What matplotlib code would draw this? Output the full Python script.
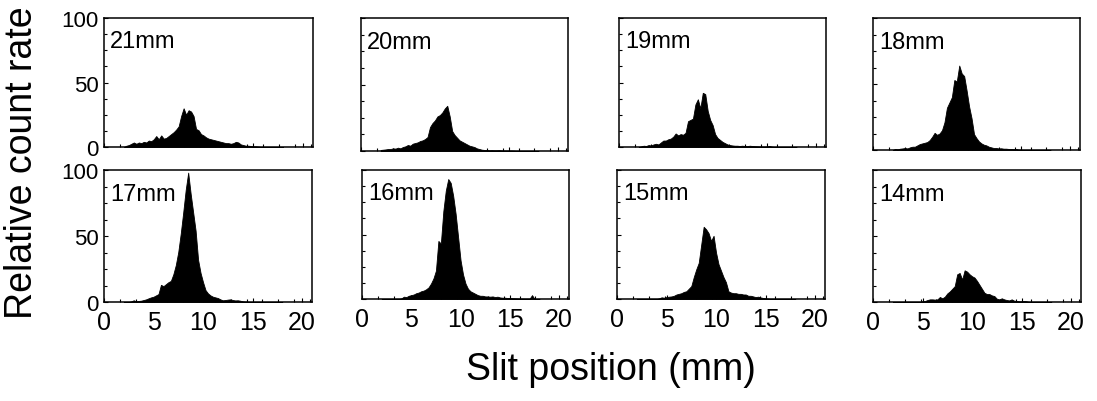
import numpy as np
import matplotlib
matplotlib.use("Agg")
import matplotlib.pyplot as plt
from matplotlib.ticker import MultipleLocator

plt.rcParams['font.family'] = ['Liberation Sans', 'DejaVu Sans']

# --- data: relative count rate vs slit position, one histogram per gap ---
slit_mm = np.arange(2.0, 18.01, 0.25)   # bin centres, 65 bins
gap_labels = ["21mm", "20mm", "19mm", "18mm", "17mm", "16mm", "15mm", "14mm"]

rate_21 = [0, 1, 1.5, 2.5,  3.5, 2.5, 3.5, 3,  4, 3.5, 5, 4.5,  6, 8.5, 6, 9,
           6.5, 7, 8.5, 10,  11.5, 13.5, 16, 24,  30, 25, 28.5, 27.5,  24, 14, 13, 10,
           9, 7.5, 6.5, 6,  5.5, 5, 4.5, 4,  3.5, 3, 3, 2.5,  3, 4, 3.5, 2,
           1.5, 1, 1, 0.8,  0.5, 0.5, 0.3, 0,  0, 0, 0, 0,  0, 0, 0, 0,  0]
rate_20 = [0.8, 1, 1.2, 1.5,  1.5, 2, 1.8, 2.5,  2, 3, 3.5, 4.5,  4, 5.5, 6, 6.5,
           7.5, 8, 9, 10.5,  18, 21, 23, 26,  27, 29, 32, 34,  26, 15, 12, 10,
           8, 7, 6, 5,  4, 3.5, 3, 2,  1.5, 1, 0.8, 0.8,  0.5, 0.6, 0.5, 0.5,
           0.6, 0.4, 0.3, 0.3,  0.3, 0.3, 0.2, 0,  0, 0, 0, 0,  0, 0, 0, 0,  0]
rate_19 = [0, 0.5, 1, 0.8,  1.5, 1.2, 2, 2.5,  2, 3.5, 5, 5,  6, 6.5, 8, 10.5,
           9, 10, 9.5, 11,  20, 21, 22, 33,  37, 30, 42, 41,  28, 21, 17, 10,
           7, 5.5, 4, 3,  2, 1.5, 1.2, 1,  1, 0.8, 1, 0.8,  0.6, 1, 0.8, 0.6,
           0.5, 0.4, 0.3, 0.3,  0.4, 0.8, 0.3, 0,  0, 0, 0, 0,  0, 0, 0, 0,  0]
rate_18 = [0, 0.8, 0.5, 1,  1.2, 1.5, 1.2, 2,  2.5, 2.5, 3.5, 4.5,  5, 5.5, 6, 7.5,
           10, 13, 11.5, 12.5,  15, 21, 32, 36,  40, 53, 52, 64,  58, 56, 45, 33,
           24, 12, 9, 6.5,  5, 4, 3.5, 2.5,  2, 1.5, 1.5, 1.2,  1.3, 1, 1, 0.8,
           0.8, 0.6, 0.8, 0.3,  0.2, 0, 0, 0,  0, 0, 0, 0,  0, 0, 0, 0,  0]
rate_17 = [0, 0, 0, 0.5,  1.3, 0.5, 0.8, 1,  1.5, 2, 2.8, 3.5,  4, 5, 6, 13,
           12, 13.5, 15, 16,  21, 28, 38, 52,  68, 85, 98, 82,  68, 54, 32, 22,
           15, 9, 6.5, 5,  4, 3.5, 3, 2,  1.3, 1.5, 1.8, 2,  1.5, 1.2, 1.3, 1,
           0.5, 0.3, 0.2, 0,  0, 0, 0, 0,  0, 0, 0, 0,  0, 0, 0, 0,  0]
rate_16 = [0, 0, 0, 0,  0, 0, 0, 0,  0.5, 1.8, 1.5, 2.5,  3, 3.5, 4.5, 5,
           6, 6.5, 7.5, 9,  12, 16, 22, 45,  43, 68, 84, 93,  90, 80, 66, 48,
           30, 19, 12, 8,  6, 5, 4, 3,  2.5, 2.5, 2, 2,  1.8, 2, 1.5, 1.8,
           1.2, 1, 1, 0.8,  0.8, 0.6, 0.5, 0.4,  0.3, 0.3, 0.2, 0.2,  0.2, 3, 0, 0,  0]
rate_15 = [0, 0, 0, 0,  0, 0, 0, 0,  0, 0.5, 1.3, 1,  1.5, 1.8, 2, 2.5,
           3.5, 4, 4.5, 5.5,  6, 8, 10, 17,  23, 28, 42, 56,  54, 51, 45, 49,
           36, 27, 22, 17,  13, 6, 5, 4.5,  4.5, 4, 4, 3.5,  3.5, 2.5, 2.5, 2,
           1.5, 1.8, 1.2, 0.8,  0.5, 0.3, 0, 0,  0, 0, 0, 0,  0, 0, 0, 0,  0]
rate_14 = [0, 0, 0, 0,  0, 0, 0, 0,  0, 0, 0, 0,  0.5, 0.8, 1.5, 2,
           2, 1.8, 2, 3.8,  2.8, 4, 6.5, 8,  10, 12, 21, 22,  17, 24, 23, 21,
           19.5, 18.5, 16, 13,  10, 7, 6, 6,  5, 4.5, 2.5, 2,  2.8, 2, 1.5, 1.2,
           2, 1, 0.8, 0.5,  0.5, 0.8, 0.5, 0,  0, 0, 0, 0,  0, 0, 0, 0,  0]

rates = [rate_21, rate_20, rate_19, rate_18, rate_17, rate_16, rate_15, rate_14]
x_ticks = [0, 5, 10, 15, 20]
y_ticks = [0, 50, 100]

# --- layout: panel boxes in pixels (left, top, right, bottom) ---
W, H = 1097, 402
boxes = [(104, 19, 313, 148), (361, 19, 568, 152), (619, 19, 826, 148), (873, 19, 1080, 151),
         (104, 171, 312, 303), (362, 171, 569, 300), (617, 171, 825, 300), (873, 171, 1081, 303)]

fig = plt.figure(figsize=(W / 100, H / 100), dpi=100)

for i, (l, t, r, b) in enumerate(boxes):
    ax = fig.add_axes([l / W, 1 - b / H, (r - l) / W, (b - t) / H])
    ax.fill_between(slit_mm, rates[i], 0, color='black', lw=0.6, edgecolor='black')
    ax.set_xlim(0, 21)
    ax.set_ylim(0, 100)
    ax.set_xticks(x_ticks)
    ax.set_yticks(y_ticks)
    ax.xaxis.set_minor_locator(MultipleLocator(1.6))
    ax.yaxis.set_minor_locator(MultipleLocator(12.5))
    ax.tick_params(which='both', direction='in', top=False, right=False, width=0.8)
    ax.tick_params(which='major', length=3)
    ax.tick_params(which='minor', length=2)
    ax.tick_params(axis='x', labelsize=18, pad=6)
    ax.tick_params(axis='y', labelsize=16, pad=4)
    for s in ax.spines.values():
        s.set_linewidth(1.1)
    if i % 4 != 0:
        ax.set_yticklabels([])
    if i < 4:
        ax.set_xticklabels([])
    ax.text(0.03, 0.82, gap_labels[i], transform=ax.transAxes, fontsize=17,
            ha='left', va='center')

fig.text(22 / W, 1 - 163 / H, "Relative count rate", rotation=90, fontsize=27,
         ha='center', va='center')
fig.text(611 / W, 1 - 370 / H, "Slit position (mm)", fontsize=27,
         ha='center', va='center')

fig.savefig("out.png", dpi=100)
